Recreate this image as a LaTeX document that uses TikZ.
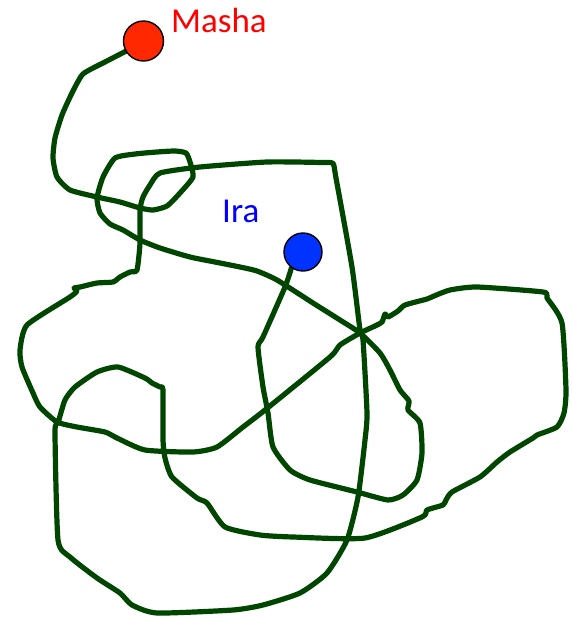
\documentclass[tikz,border=0pt]{standalone}
\usepackage{fontspec}
\setmainfont{Carlito}
\usetikzlibrary{backgrounds}
\definecolor{trail}{RGB}{0,70,0}
\definecolor{mashafill}{RGB}{255,40,0}
\definecolor{irafill}{RGB}{0,51,255}
\definecolor{mashatext}{RGB}{255,0,0}
\definecolor{iratext}{RGB}{0,0,255}
\tikzset{
  trailline/.style={draw=trail, line width=5.2pt, line join=round, line cap=round},
  person/.style={circle, draw=black, line width=1.4pt, inner sep=0pt},
  namelabel/.style={anchor=base west, inner sep=0pt, font=\fontsize{35}{42}\selectfont}
}
\begin{document}
\begin{tikzpicture}[x=1pt,y=-1pt]
\useasboundingbox (0,0) rectangle (571,619);
\node[person, fill=mashafill, minimum size=40pt] (masha) at (143.5,41) {};
\node[person, fill=irafill, minimum size=38pt] (ira) at (303,252) {};
\node[namelabel, text=mashatext] (mashalabel) at (171,32) {Masha};
\node[namelabel, text=iratext] (iralabel) at (222,222) {Ira};
\begin{pgfonlayer}{background}
% Masha's route to Ira
\draw[trailline] plot[smooth, tension=0.35] coordinates {
 (masha.210) (105,62) (83,74) (72,93) (62,115) (55,138) (53,158) (57,177) (70,190)
 (97,197) (120,202) (140,208) (153,210) (167,206) (180,193) (193,177) (190,162)
 (186,153) (175,151) (157,152) (135,154) (115,158) (103,177) (97,198) (100,213)
 (110,224) (123,230) (140,240) (160,248) (190,257) (215,262) (240,267) (257,271)
 (277,280) (313,303) (340,320) (360,333) (380,353) (390,370) (400,390) (409,401)
 (408,410) (420,423) (422,453) (417,480) (403,495) (388,500) (357,492) (310,480)
 (290,470) (273,447) (268,413) (263,387) (258,347) (263,337) (285,287) (ira.234)};
% closed loop
\draw[trailline] plot[smooth cycle, tension=0.35] coordinates {
 (140,210) (140,243) (137,270) (130,272) (120,277) (113,282) (97,283) (80,287)
 (74,288) (77,291) (70,297) (27,325) (20,350) (22,367) (33,393) (40,407) (57,422)
 (77,427) (105,432) (117,438) (145,450) (193,452) (217,447) (243,427) (265,410)
 (330,357) (340,345) (360,333) (375,326) (382,322) (385,314) (388,317) (398,311)
 (405,305) (427,299) (434,296) (450,290) (477,287) (543,292) (547,298) (562,323)
 (566,390) (564,413) (557,427) (537,435) (533,438) (510,452) (497,462) (480,477)
 (452,492) (446,500) (443,505) (427,510) (422,517) (365,538) (293,537) (260,535)
 (225,527) (207,503) (197,498) (172,477) (165,458) (163,440) (163,390) (160,387)
 (152,383) (145,378) (118,367) (97,372) (75,387) (65,400) (58,423) (55,432)
 (58,540) (70,557) (97,578) (120,593) (132,605) (157,613) (233,610) (263,605)
 (300,593) (327,573) (347,540) (358,497) (365,440) (367,413) (363,340) (360,330)
 (352,267) (336,178) (333,163.5) (322,162.5) (267,162) (200,167) (160,173) (150,185) (143,197)};
\end{pgfonlayer}
\end{tikzpicture}
\end{document}
